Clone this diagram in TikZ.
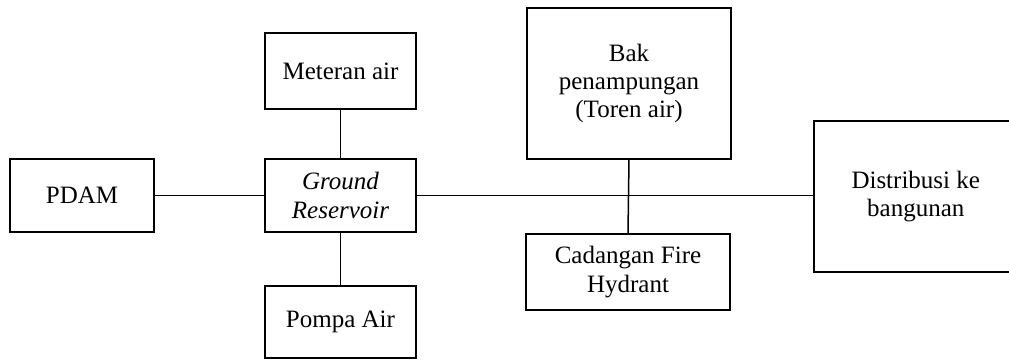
\documentclass[tikz,border=0pt]{standalone}
\usepackage{fontspec}
\setmainfont{Liberation Serif}
\begin{document}
\begin{tikzpicture}[x=0.5pt, y=-0.5pt, line width=0.75pt,
    kotak/.style={draw, rectangle, inner sep=0pt, align=center, font=\fontsize{12.5}{14.2}\selectfont}]
\useasboundingbox (0,0) rectangle (1009,363);
\clip (0,0) rectangle (1009,363);
\node[kotak, minimum width=72pt, minimum height=36.5pt] (pdam) at (82,195.5) {PDAM};
\node[kotak, minimum width=75.5pt, minimum height=36.5pt] (ground) at (340.5,195.5) {\itshape Ground\\ \itshape Reservoir};
\node[kotak, minimum width=75.5pt, minimum height=38pt] (meteran) at (340.5,71) {Meteran air};
\node[kotak, minimum width=75.5pt, minimum height=36pt] (pompa) at (340.5,322) {Pompa Air};
\node[kotak, minimum width=102pt, minimum height=75.5pt] (bak) at (629,83.5) {Bak\\ penampungan\\ (Toren air)};
\node[kotak, minimum width=102pt, minimum height=38pt] (cadangan) at (628,272) {Cadangan Fire\\ Hydrant};
\node[kotak, minimum width=130pt, minimum height=75.5pt, anchor=west] (distribusi) at (813,196.5) {\hspace*{-28pt}Distribusi ke\\ \hspace*{-28pt}bangunan};

\draw (pdam.east)--(ground.west);
\draw (meteran.south)--(ground.north);
\draw (ground.south)--(pompa.north);
\draw (ground.east)--(ground.east-|distribusi.west);
\draw (bak.south)--(cadangan.north);

\end{tikzpicture}
\end{document}
